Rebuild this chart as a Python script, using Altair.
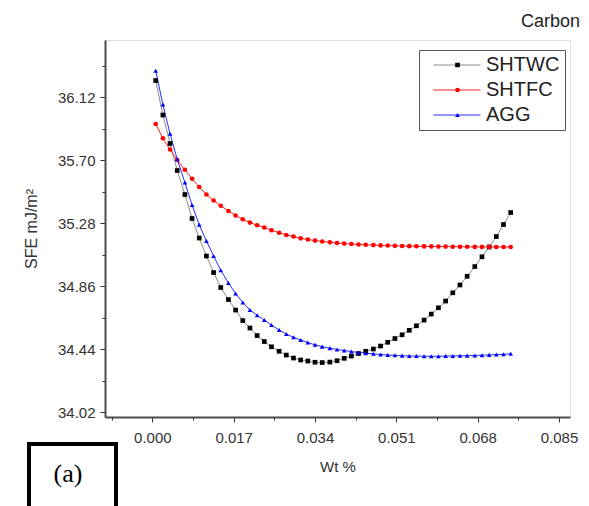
import altair as alt
import pandas as pd

series_names = ["SHTWC", "SHTFC", "AGG"]

wt = [0.0007, 0.0022, 0.0037, 0.0052, 0.0068, 0.0083, 0.0098, 0.0113, 0.0128, 0.0143,
      0.0159, 0.0174, 0.0189, 0.0204, 0.0219, 0.0234, 0.0249, 0.0265, 0.0280, 0.0295,
      0.0310, 0.0325, 0.0340, 0.0355, 0.0371, 0.0386, 0.0401, 0.0416, 0.0431, 0.0446,
      0.0462, 0.0477, 0.0492, 0.0507, 0.0522, 0.0537, 0.0552, 0.0568, 0.0583, 0.0598,
      0.0613, 0.0628, 0.0643, 0.0658, 0.0674, 0.0689, 0.0704, 0.0719, 0.0734, 0.0749]

shtwc = [36.23, 36.00, 35.81, 35.63, 35.47, 35.31, 35.18, 35.06, 34.95, 34.85,
         34.77, 34.70, 34.63, 34.58, 34.53, 34.49, 34.455, 34.425, 34.40, 34.38,
         34.367, 34.36, 34.352, 34.35, 34.353, 34.362, 34.378, 34.393, 34.41, 34.425,
         34.44, 34.46, 34.485, 34.51, 34.535, 34.565, 34.595, 34.633, 34.673, 34.715,
         34.76, 34.815, 34.867, 34.925, 34.99, 35.055, 35.12, 35.19, 35.27, 35.35]

shtfc = [35.94, 35.845, 35.77, 35.70, 35.635, 35.575, 35.52, 35.47, 35.43, 35.395,
         35.36, 35.33, 35.305, 35.283, 35.265, 35.25, 35.232, 35.215, 35.20, 35.19,
         35.178, 35.17, 35.163, 35.157, 35.152, 35.147, 35.143, 35.14, 35.137, 35.135,
         35.133, 35.131, 35.13, 35.128, 35.127, 35.126, 35.125, 35.124, 35.124, 35.123,
         35.123, 35.122, 35.122, 35.122, 35.121, 35.121, 35.121, 35.12, 35.12, 35.12]

agg = [36.295, 36.07, 35.875, 35.705, 35.55, 35.40, 35.268, 35.16, 35.06, 34.965,
       34.88, 34.81, 34.75, 34.70, 34.665, 34.633, 34.60, 34.567, 34.54, 34.518,
       34.50, 34.483, 34.468, 34.456, 34.446, 34.437, 34.43, 34.423, 34.417, 34.412,
       34.408, 34.404, 34.40, 34.398, 34.396, 34.394, 34.393, 34.392, 34.392, 34.392,
       34.393, 34.394, 34.395, 34.396, 34.397, 34.399, 34.401, 34.403, 34.405, 34.408]

x_major = [0.000, 0.017, 0.034, 0.051, 0.068, 0.085]
x_minor = [-0.0085, 0.0085, 0.0255, 0.0425, 0.0595, 0.0765]
y_major = [34.02, 34.44, 34.86, 35.28, 35.70, 36.12]
y_minor = [34.23, 34.65, 35.07, 35.49, 35.91, 36.33]

line_colors = ["#8c8c8c", "#ff2020", "#2a2aff"]
marker_colors = ["#000000", "#ff0000", "#0000ff"]
marker_shapes = ["square", "circle", "triangle-up"]

rows = []
for name, vals in zip(series_names, [shtwc, shtfc, agg]):
    for xv, yv in zip(wt, vals):
        rows.append({"x": xv, "y": yv, "series": name, "marker": name})
df = pd.DataFrame(rows)

FONT = "Liberation Sans"
xscale = alt.Scale(domain=[-0.0099, 0.0873], nice=False, zero=False)
yscale = alt.Scale(domain=[33.987, 36.50], nice=False, zero=False)

x_axis_major = alt.Axis(orient="bottom", values=x_major, format=".3f", tickSize=5, tickColor="#333",
                        labelFont=FONT, labelFontSize=15, labelColor="#333", labelPadding=8,
                        labelFlush=False, labelOverlap=False, grid=False,
                        domainColor="#4d4d4d", domainWidth=2,
                        title="Wt %", titleFont=FONT, titleFontSize=15,
                        titleFontWeight="normal", titleColor="#333", titlePadding=14)
x_axis_minor = alt.Axis(orient="bottom", values=x_minor, tickSize=3, tickColor="#333", labels=False,
                        domain=False, grid=False, title=None)
y_axis_major = alt.Axis(orient="left", values=y_major, format=".2f", tickSize=5, tickColor="#333",
                        labelFont=FONT, labelFontSize=15, labelColor="#333", labelPadding=5,
                        labelFlush=False, labelOverlap=False, grid=False,
                        domainColor="#4d4d4d", domainWidth=2,
                        title="SFE mJ/m²", titleFont=FONT, titleFontSize=16,
                        titleFontWeight="normal", titleColor="#333", titlePadding=18)
y_axis_minor = alt.Axis(orient="left", values=y_minor, tickSize=3, tickColor="#333", labels=False,
                        domain=False, grid=False, title=None)

line_legend = alt.Legend(orient="none", legendX=314, legendY=10, title=None,
                         symbolType="stroke", symbolSize=2209, symbolStrokeWidth=1,
                         symbolOffset=9, clipHeight=20, rowPadding=5, padding=5,
                         labelFont=FONT, labelFontSize=20, labelColor="#222",
                         labelOffset=5, strokeColor="#555")
marker_legend = alt.Legend(orient="none", legendX=337.5, legendY=10, title=None,
                           symbolSize=22, symbolStrokeWidth=0, clipHeight=20,
                           rowPadding=5, padding=5,
                           labelFont=FONT, labelFontSize=20, labelExpr="''",
                           symbolOffset=0)

base = alt.Chart(df)
lines = base.mark_line(strokeWidth=1).encode(
    x=alt.X("x:Q", scale=xscale, axis=x_axis_major),
    y=alt.Y("y:Q", scale=yscale, axis=y_axis_major),
    stroke=alt.Stroke("series:N", sort=series_names, scale=alt.Scale(range=line_colors),
                      legend=line_legend),
)
points = base.mark_point(filled=True, size=22, opacity=1, strokeWidth=0).encode(
    x=alt.X("x:Q", scale=xscale, axis=x_axis_minor),
    y=alt.Y("y:Q", scale=yscale, axis=y_axis_minor),
    fill=alt.Fill("marker:N", scale=alt.Scale(domain=series_names, range=marker_colors),
                  legend=marker_legend),
    shape=alt.Shape("marker:N", scale=alt.Scale(domain=series_names, range=marker_shapes),
                    legend=marker_legend),
)

deco = alt.Chart(alt.Data(values=[{}]))
box = deco.mark_rect(fillOpacity=0, stroke="black", strokeWidth=4).encode(
    x=alt.value(-76), x2=alt.value(11), y=alt.value(404), y2=alt.value(480))
label_a = deco.mark_text(font="Liberation Serif", fontSize=26, color="black",
                         align="center", baseline="middle").encode(
    x=alt.value(-37), y=alt.value(434), text=alt.value("(a)"))
label_carbon = deco.mark_text(font=FONT, fontSize=18, color="#222",
                              align="right", baseline="alphabetic").encode(
    x=alt.value(475), y=alt.value(-13), text=alt.value("Carbon"))

chart = alt.layer(lines, points, box, label_a, label_carbon).resolve_axis(
    x="independent", y="independent"
).properties(
    width=465, height=377,
    autosize=alt.AutoSizeParams(type="none"),
    padding={"left": 105, "top": 40, "right": 19, "bottom": 89},
).configure_view(stroke="#4d4d4d", strokeWidth=2).configure(background="white")

chart.save("out.html", embed_options={"renderer": "svg", "actions": False})
